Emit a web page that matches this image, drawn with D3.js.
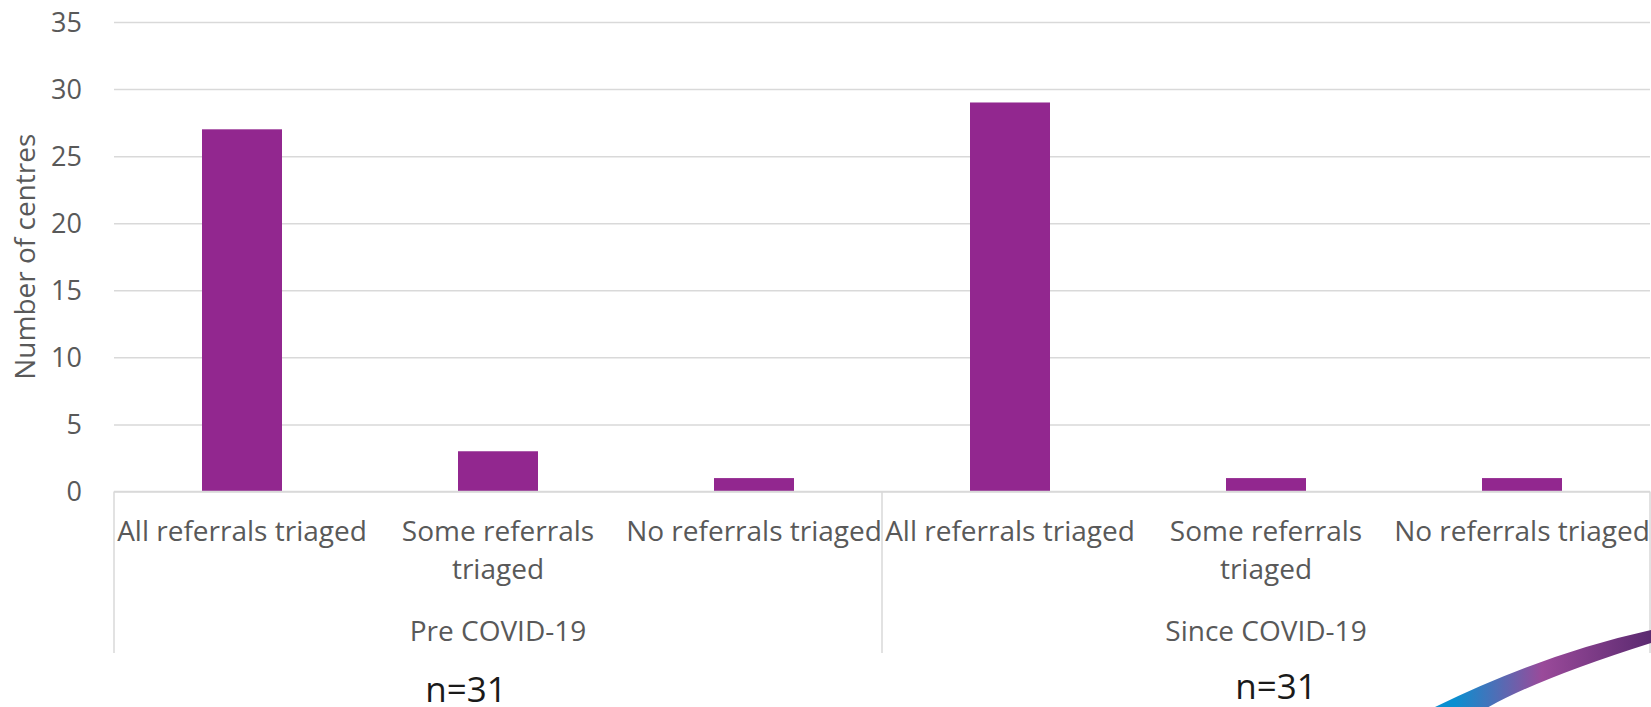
<!DOCTYPE html>
<html>
<head>
<meta charset="utf-8">
<script src="https://cdn.jsdelivr.net/npm/d3@7"></script>
<style>
  body { margin: 0; background: #fff; }
  text { font-family: "Open Sans", "Noto Sans", sans-serif; }
</style>
</head>
<body>
<div class="chart-container"></div>
<script>
// Triage categories, shown under each period
const categories = ["All referrals triaged", "Some referrals triaged", "No referrals triaged"];
const categoryLines = [["All referrals triaged"], ["Some referrals", "triaged"], ["No referrals triaged"]];
const periods = ["Pre COVID-19", "Since COVID-19"];
const preValues = [27, 3, 1];
const sinceValues = [29, 1, 1];
const sampleSizes = ["n=31", "n=31"];
const yTicks = [0, 5, 10, 15, 20, 25, 30, 35];

const rows = [];
periods.forEach((p, pi) => {
    const vals = pi === 0 ? preValues : sinceValues;
    categories.forEach((c, ci) => rows.push({key: p + "|" + c, period: p, ci: ci, value: vals[ci]}));
});

// Chart dimensions
const width = 1651;
const height = 707;
const marginLeft = 114;
const marginRight = 1;
const plotTop = 22;
const plotBottom = 491.5;
const frameBottom = 653;
const labelSize = "28px";

const svg = d3.select(".chart-container").append("svg")
    .attr("width", width)
    .attr("height", height);

const x = d3.scaleBand()
    .domain(rows.map(d => d.key))
    .range([marginLeft, width - marginRight])
    .paddingInner(0.6875)
    .paddingOuter(0.34375);

const y = d3.scaleLinear()
    .domain([0, 35])
    .range([plotBottom, plotTop]);

// Horizontal gridlines and the y-axis labels
const yAxis = svg.append("g")
    .attr("transform", `translate(${marginLeft},0)`)
    .call(d3.axisLeft(y).tickValues(yTicks).tickSize(-(width - marginRight - marginLeft)).tickPadding(32));
yAxis.select(".domain").remove();
yAxis.selectAll(".tick line").attr("stroke", "#d9d9d9").attr("stroke-width", 1.5);
yAxis.selectAll(".tick text")
    .attr("fill", "#595959")
    .style("font-size", "27px")
    .attr("dy", "0.35em");

// Bars
svg.append("g").selectAll("rect")
    .data(rows)
    .join("rect")
    .attr("x", d => x(d.key))
    .attr("y", d => y(d.value))
    .attr("width", x.bandwidth())
    .attr("height", d => y(0) - y(d.value))
    .attr("fill", "#92278F");

// Category axis frame: baseline plus group dividers
const step = x.step();
const frame = svg.append("g").attr("stroke", "#d9d9d9").attr("stroke-width", 1.5);
frame.append("line")
    .attr("x1", marginLeft).attr("x2", width - marginRight)
    .attr("y1", y(0)).attr("y2", y(0));
[0, 3, 6].forEach(i => {
    const xx = marginLeft + i * step;
    frame.append("line")
        .attr("x1", xx).attr("x2", xx)
        .attr("y1", y(0)).attr("y2", frameBottom);
});

// Category labels (multi-line where they wrap)
const catLabels = svg.append("g")
    .attr("fill", "#595959")
    .attr("text-anchor", "middle")
    .style("font-size", labelSize);
rows.forEach(d => {
    const t = catLabels.append("text")
        .attr("x", x(d.key) + x.bandwidth() / 2)
        .attr("y", 541);
    categoryLines[d.ci].forEach((line, li) => {
        t.append("tspan")
            .attr("x", x(d.key) + x.bandwidth() / 2)
            .attr("dy", li === 0 ? 0 : 38)
            .text(line);
    });
});

// Period labels
svg.append("g").selectAll("text")
    .data(periods)
    .join("text")
    .attr("x", (d, i) => marginLeft + (i * 3 + 1.5) * step)
    .attr("y", 641)
    .attr("text-anchor", "middle")
    .attr("fill", "#595959")
    .style("font-size", labelSize)
    .text(d => d);

// Y-axis title
svg.append("text")
    .attr("transform", `translate(35,${(plotTop + plotBottom) / 2}) rotate(-90)`)
    .attr("text-anchor", "middle")
    .attr("fill", "#595959")
    .style("font-size", labelSize)
    .text("Number of centres");

// Sample size notes below each period
const nPos = [[466, 702], [1276, 699]];
svg.append("g").selectAll("text")
    .data(sampleSizes)
    .join("text")
    .attr("x", (d, i) => nPos[i][0])
    .attr("y", (d, i) => nPos[i][1])
    .attr("text-anchor", "middle")
    .attr("fill", "#1a1a1a")
    .style("font-size", "35px")
    .text(d => d);

// Decorative swoosh in the corner
const grad = svg.append("defs").append("linearGradient")
    .attr("id", "swoosh")
    .attr("gradientUnits", "userSpaceOnUse")
    .attr("x1", 1433).attr("y1", 0).attr("x2", 1651).attr("y2", 0);
grad.append("stop").attr("offset", "0.1").attr("stop-color", "#0a8fd0");
grad.append("stop").attr("offset", "0.5").attr("stop-color", "#9a4a9a");
grad.append("stop").attr("offset", "1").attr("stop-color", "#5b2a70");
svg.append("path")
    .attr("d", "M1425,712 Q1538,655 1651,630 L1651,643 Q1531,681 1480,712 Z")
    .attr("fill", "url(#swoosh)");
</script>
</body>
</html>
